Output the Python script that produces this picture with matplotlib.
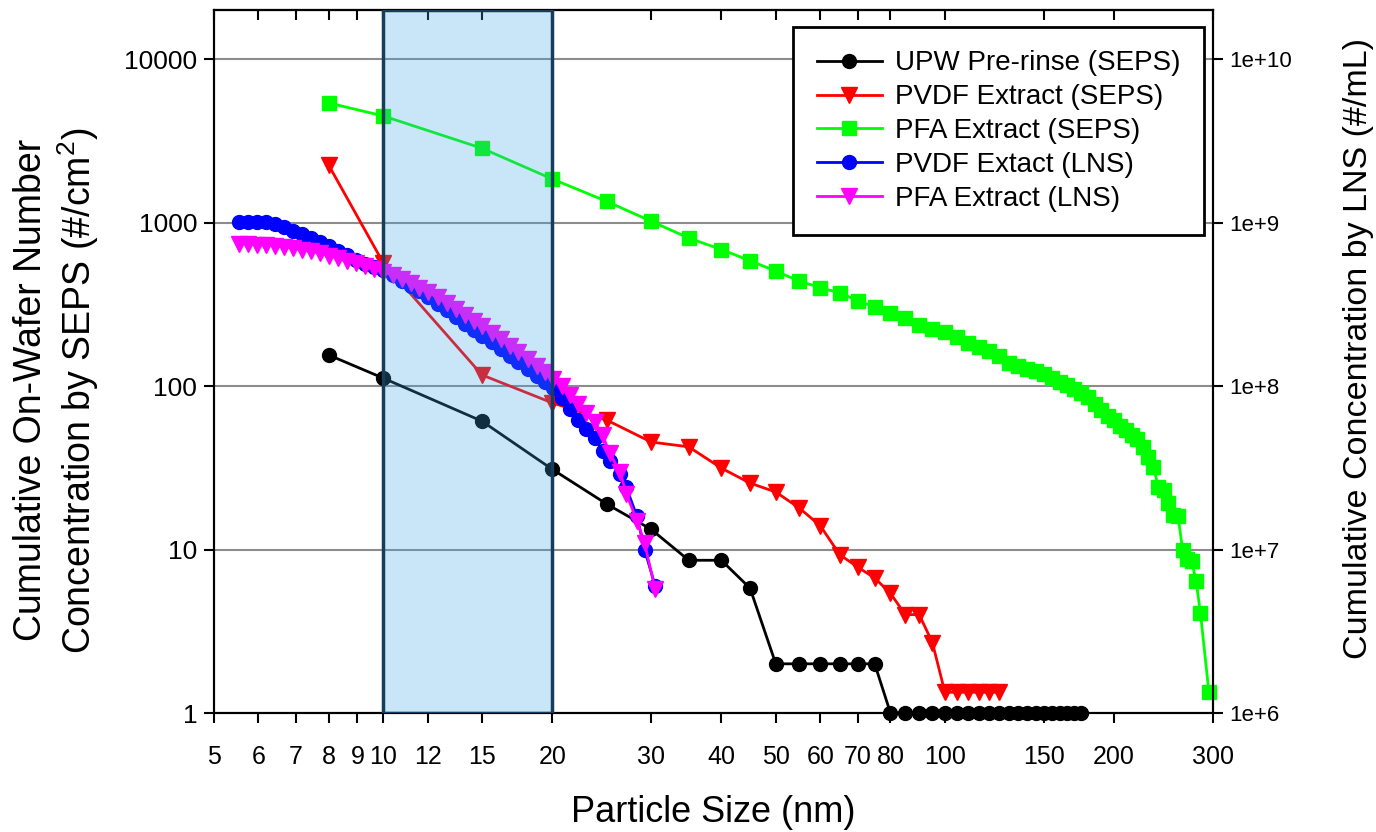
import numpy as np
import matplotlib
matplotlib.use('Agg')
import matplotlib.pyplot as plt
from matplotlib.ticker import FixedLocator, FuncFormatter, NullLocator

# data
# SEPS series, on-wafer number concentration (#/cm^2)
upw_x = [8, 10, 15, 20, 25, 30, 35, 40, 45, 50, 55, 60, 65, 70, 75,
         80, 85, 90, 95, 100, 105, 110, 115, 120, 125, 130, 135, 140, 145,
         150, 155, 160, 165, 170, 175]
upw_y = [155, 112, 61, 31, 19, 13.3, 8.6, 8.6, 5.8, 2, 2, 2, 2, 2, 2,
         1, 1, 1, 1, 1, 1, 1, 1, 1, 1, 1, 1, 1, 1,
         1, 1, 1, 1, 1, 1]

pvdf_seps_x = [8, 10, 15, 20, 25, 30, 35, 40, 45, 50, 55, 60, 65, 70, 75,
               80, 85, 90, 95, 100, 105, 110, 115, 120, 125]
pvdf_seps_y = [2250, 570, 117, 79, 62, 45.5, 42.5, 31.5, 25.5, 22.5, 18, 14, 9.3, 7.8, 6.7,
               5.4, 4.0, 4.0, 2.7, 1.34, 1.34, 1.34, 1.34, 1.34, 1.34]

pfa_seps_x = [8, 10, 15, 20, 25, 30, 35, 40, 45, 50, 55, 60, 65, 70, 75,
              80, 85, 90, 95, 100, 105, 110, 115, 120, 125, 130, 135, 140, 145,
              150, 155, 160, 165, 170, 175, 180, 185, 190, 195, 200, 205, 210, 215,
              220, 225, 230, 235, 240, 245, 250, 255, 260, 265, 270, 275, 280, 285,
              295]
pfa_seps_y = [5400, 4500, 2850, 1850, 1350, 1020, 805, 685, 585, 505, 440, 400, 372, 332, 306,
              280, 260, 238, 225, 215, 200, 184, 174, 163, 152, 139, 133, 128, 123,
              119, 112, 106, 101, 96, 91, 86, 78, 71, 66, 62, 57, 54, 50,
              47.5, 42.5, 37, 32, 24, 23, 19.2, 16.3, 16, 9.9, 8.8, 8.5, 6.4, 4.1,
              1.35]

# LNS series, liquid concentration in units of 1e6 #/mL
lns_x = [5.55, 5.75, 5.97, 6.19, 6.42, 6.66, 6.91, 7.17, 7.44, 7.72, 8.01, 8.31, 8.62,
         8.94, 9.28, 9.63, 9.99, 10.4, 10.8, 11.2, 11.6, 12.0, 12.5, 13.0, 13.5, 14.0,
         14.5, 15.0, 15.6, 16.2, 16.8, 17.4, 18.1, 18.8, 19.4, 20.1, 20.8, 21.5, 22.2,
         23.0, 23.8, 24.6, 25.3, 26.4, 27.1, 28.3, 29.2, 30.5]
pvdf_lns = [1010, 1015, 1015, 1005, 985, 945, 895, 850, 805, 760, 715, 670, 630,
            590, 560, 535, 510, 475, 440, 410, 380, 350, 320, 292, 265, 240,
            220, 203, 185, 168, 153, 140, 127, 115, 106, 97, 84, 72, 62,
            55, 48, 40, 35, 29, 24, 16, 10, 6]
pfa_lns = [740, 738, 735, 730, 722, 712, 698, 683, 667, 650, 628, 607, 585,
           563, 540, 520, 500, 478, 452, 425, 400, 375, 350, 322, 297, 272,
           250, 232, 212, 194, 177, 162, 147, 133, 122, 110, 100, 88, 78,
           68, 60, 50, 39, 30, 22, 15, 11, 5.7]

xticks = [5, 6, 7, 8, 9, 10, 12, 15, 20, 30, 40, 50, 60, 70, 80, 100, 150, 200, 300]

plt.rcParams['font.family'] = ['Liberation Sans', 'DejaVu Sans']
plt.rcParams['mathtext.default'] = 'regular'

fig = plt.figure(figsize=(13.76, 8.32), dpi=100)
ax = fig.add_axes([0.1555, 0.143, 0.726, 0.845])

mk = dict(lw=2, clip_on=False, zorder=3)
h1, = ax.plot(upw_x, upw_y, color='black', marker='o', ms=10, label='UPW Pre-rinse (SEPS)', **mk)
h2, = ax.plot(pvdf_seps_x, pvdf_seps_y, color='#FF0000', marker='v', ms=11, label='PVDF Extract (SEPS)', **mk)
h3, = ax.plot(pfa_seps_x, pfa_seps_y, color='#00FF00', marker='s', ms=10, label='PFA Extract (SEPS)', **mk)

ax.set_xscale('log')
ax.set_yscale('log')
ax.set_xlim(5, 300)
ax.set_ylim(1, 2e4)
ax.xaxis.set_major_locator(FixedLocator(xticks))
ax.xaxis.set_minor_locator(NullLocator())
ax.xaxis.set_major_formatter(FuncFormatter(lambda v, p: f'{v:g}'))
ax.yaxis.set_major_locator(FixedLocator([1, 10, 100, 1000, 10000]))
ax.yaxis.set_minor_locator(NullLocator())
ax.yaxis.set_major_formatter(FuncFormatter(lambda v, p: f'{v:g}'))
ax.grid(axis='y', color='#8c8c8c', lw=1.5)
ax.set_axisbelow(True)
ax.tick_params(axis='both', direction='out', length=7, width=1.5)
ax.tick_params(axis='y', labelsize=19, pad=5)
ax.tick_params(axis='x', labelsize=18, pad=16)
for s in ax.spines.values():
    s.set_linewidth(1.5)

# inward ticks along the top edge
top = ax.secondary_xaxis('top')
top.xaxis.set_major_locator(FixedLocator(xticks))
top.xaxis.set_minor_locator(NullLocator())
top.tick_params(direction='in', length=7, width=1.5, labeltop=False)
top.spines['top'].set_linewidth(1.5)

ax.set_xlabel('Particle Size (nm)', fontsize=26, va='center')
ax.xaxis.set_label_coords(0.5, -0.142)
ax.set_ylabel('Cumulative On-Wafer Number\nConcentration by SEPS (#/cm$^2$)',
              fontsize=27, ha='center', va='center')
ax.yaxis.set_label_coords(-0.157, 0.459)

# right axis for LNS
ax2 = ax.twinx()
ax2.set_yscale('log')
ax2.set_ylim(1e6, 2e10)
h4, = ax2.plot(lns_x, np.array(pvdf_lns) * 1e6, color='#0000FF', marker='o', ms=10,
               label='PVDF Extact (LNS)', **mk)
h5, = ax2.plot(lns_x, np.array(pfa_lns) * 1e6, color='#FF00FF', marker='v', ms=11,
               label='PFA Extract (LNS)', **mk)
ax2.yaxis.set_major_locator(FixedLocator([1e6, 1e7, 1e8, 1e9, 1e10]))
ax2.yaxis.set_minor_locator(NullLocator())
ax2.yaxis.set_major_formatter(FuncFormatter(lambda v, p: f'1e+{int(round(np.log10(v)))}'))
ax2.tick_params(axis='y', direction='out', length=7, width=1.5, labelsize=16, pad=5)
for s in ax2.spines.values():
    s.set_linewidth(1.5)
ax2.set_ylabel('Cumulative Concentration by LNS (#/mL)', fontsize=24.5, ha='center', va='center')
ax2.yaxis.set_label_coords(1.146, 0.519)

# 10-20 nm highlight
ax2.axvspan(10, 20, facecolor='#3FA8E7', alpha=0.28, lw=0, zorder=10)
ax2.axvspan(10, 20, fill=False, edgecolor='#163D5C', lw=2.5, zorder=11)

leg = ax2.legend(handles=[h1, h2, h3, h4, h5], loc='upper left',
                 bbox_to_anchor=(0.5796, 0.976), fontsize=20, frameon=True,
                 fancybox=False, framealpha=1, edgecolor='black',
                 borderpad=0.85, labelspacing=0.28, handlelength=2.35,
                 handletextpad=0.47, borderaxespad=0)
leg.get_frame().set_linewidth(2)
leg.set_zorder(20)

plt.savefig('out.png', dpi=100)
